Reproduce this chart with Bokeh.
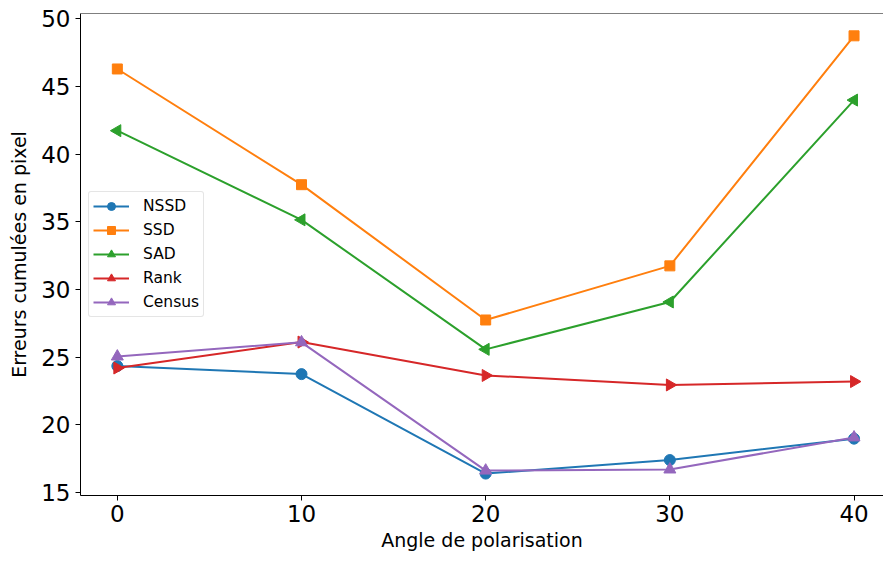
import numpy as np
from bokeh.plotting import figure
from bokeh.models import Range1d, FixedTicker, Span, Legend
from bokeh.embed import file_html
from bokeh.resources import INLINE

angles = [0, 10, 20, 30, 40]
nssd = [24.35, 23.75, 16.4, 17.4, 18.98]
ssd = [46.3, 37.75, 27.75, 31.75, 48.75]
sad = [41.74, 35.15, 25.58, 29.08, 44.0]
rank = [24.2, 26.12, 23.65, 22.95, 23.2]
census = [25.05, 26.1, 16.62, 16.7, 19.07]

x_ticks = [0, 10, 20, 30, 40]
y_ticks = [15, 20, 25, 30, 35, 40, 45, 50]

FONT = "DejaVu Sans"

p = figure(width=883, height=558, output_backend="svg", toolbar_location=None,
           x_range=Range1d(-2.0, 41.6), y_range=Range1d(14.78, 50.4),
           min_border_left=80, min_border_right=0, min_border_top=13, min_border_bottom=63)
p.outline_line_color = None
p.xgrid.visible = False
p.ygrid.visible = False
p.background_fill_color = "white"
p.border_fill_color = "white"

top = Span(location=50.4, dimension="width", line_color="black", line_width=1)
p.add_layout(top)

series = [
    ("NSSD", nssd, "#1f77b4", "circle", 0.0, 11),
    ("SSD", ssd, "#ff7f0e", "square", 0.0, 10),
    ("SAD", sad, "#2ca02c", "triangle", np.pi / 2, 12),
    ("Rank", rank, "#d62728", "triangle", -np.pi / 2, 12),
    ("Census", census, "#9467bd", "triangle", 0.0, 12),
]

items = []
for name, ys, color, marker, ang, sz in series:
    r1 = p.line(angles, ys, line_color=color, line_width=2)
    r2 = p.scatter(angles, ys, marker=marker, angle=ang, size=sz,
                   fill_color=color, line_color=color)
    items.append((name, [r1, r2]))

legend = Legend(items=items, location=(8, 178))
legend.label_text_font = FONT
legend.label_text_font_size = "15.5px"
legend.label_text_color = "black"
legend.glyph_width = 36
legend.glyph_height = 20
legend.label_height = 20
legend.spacing = 4
legend.padding = 4
legend.label_standoff = 14
legend.margin = 0
legend.border_line_color = "#cccccc"
legend.border_line_width = 1
legend.background_fill_alpha = 0.8
legend.border_radius = 3
p.add_layout(legend)

for ax in (p.xaxis[0], p.yaxis[0]):
    ax.axis_line_color = "black"
    ax.axis_line_width = 1
    ax.major_tick_line_color = "black"
    ax.major_tick_out = 5
    ax.major_tick_in = 0
    ax.minor_tick_line_color = None
    ax.major_label_text_font = FONT
    ax.major_label_text_font_size = "23px"
    ax.major_label_text_color = "black"
    ax.axis_label_text_font = FONT
    ax.axis_label_text_font_size = "19px"
    ax.axis_label_text_font_style = "normal"
    ax.axis_label_text_color = "black"

p.xaxis.ticker = FixedTicker(ticks=x_ticks)
p.yaxis.ticker = FixedTicker(ticks=y_ticks)
p.xaxis.axis_label = "Angle de polarisation"
p.yaxis.axis_label = "Erreurs cumulées en pixel"
p.xaxis.major_label_standoff = 4
p.yaxis.major_label_standoff = 5
p.xaxis.axis_label_standoff = 4
p.yaxis.axis_label_standoff = 8

open("out.html", "w").write(file_html(p, INLINE))
